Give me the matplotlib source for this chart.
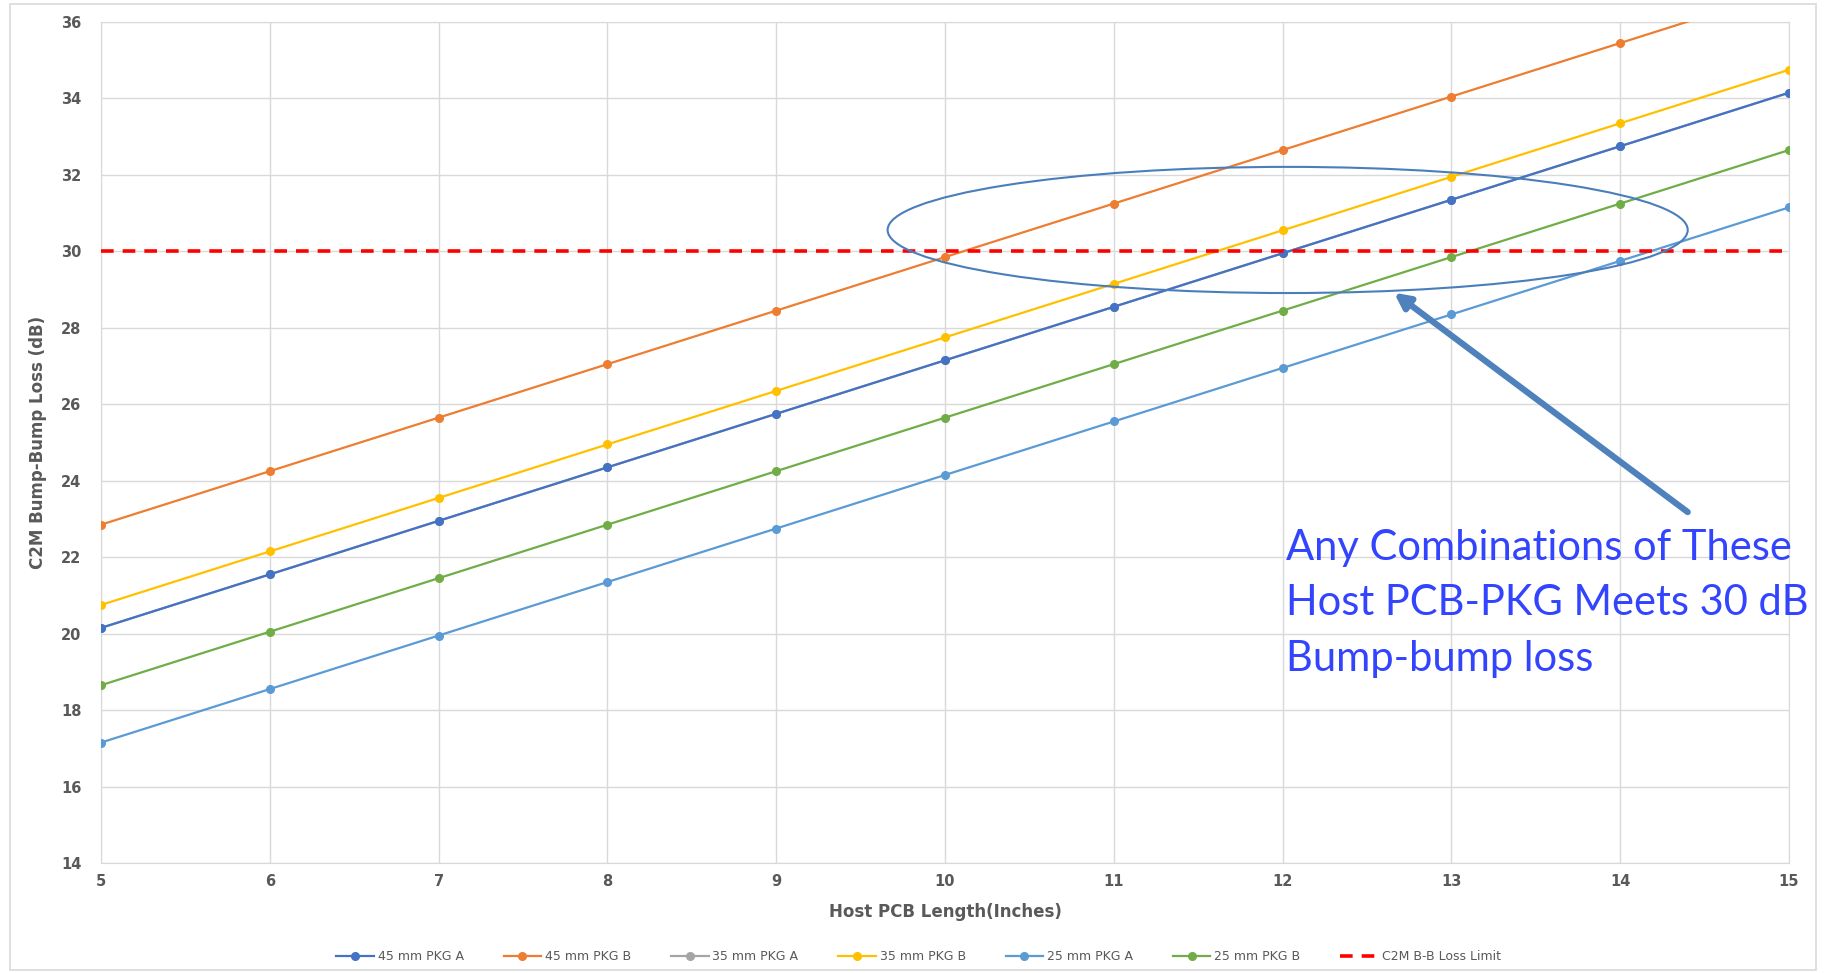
import matplotlib
matplotlib.use('Agg')
import matplotlib.pyplot as plt
from matplotlib.patches import Ellipse, Rectangle

# host PCB length (inches)
pcb_len = [5, 6, 7, 8, 9, 10, 11, 12, 13, 14, 15]

# C2M bump-bump loss (dB) per package
pkg45_a = [20.15, 21.55, 22.95, 24.35, 25.75, 27.15, 28.55, 29.95, 31.35, 32.75, 34.15]
pkg45_b = [22.85, 24.25, 25.65, 27.05, 28.45, 29.85, 31.25, 32.65, 34.05, 35.45, 36.85]
pkg35_a = [20.15, 21.55, 22.95, 24.35, 25.75, 27.15, 28.55, 29.95, 31.35, 32.75, 34.15]
pkg35_b = [20.75, 22.15, 23.55, 24.95, 26.35, 27.75, 29.15, 30.55, 31.95, 33.35, 34.75]
pkg25_a = [17.15, 18.55, 19.95, 21.35, 22.75, 24.15, 25.55, 26.95, 28.35, 29.75, 31.15]
pkg25_b = [18.65, 20.05, 21.45, 22.85, 24.25, 25.65, 27.05, 28.45, 29.85, 31.25, 32.65]
loss_limit = 30

series = [
    ('45 mm PKG A', pkg45_a, '#4472C4'),
    ('45 mm PKG B', pkg45_b, '#ED7D31'),
    ('35 mm PKG A', pkg35_a, '#A5A5A5'),
    ('35 mm PKG B', pkg35_b, '#FFC000'),
    ('25 mm PKG A', pkg25_a, '#5B9BD5'),
    ('25 mm PKG B', pkg25_b, '#70AD47'),
]
z_order = {'35 mm PKG A': 2}

txt = '#595959'
grid_c = '#D9D9D9'

fig = plt.figure(figsize=(18.37, 9.73), dpi=100)
ax = fig.add_axes([101 / 1837, 1 - 863 / 973, (1789 - 101) / 1837, (863 - 22) / 973])

# outer chart frame
fig.patches.append(Rectangle((10 / 1837, 3 / 973), (1816 - 10) / 1837, (969 - 3) / 973,
                             transform=fig.transFigure, fill=False, edgecolor='#D9D9D9', lw=1.2))

for name, vals, col in series:
    ax.plot(pcb_len, vals, color=col, lw=1.6, marker='o', ms=5.5, label=name,
            zorder=z_order.get(name, 3))

ax.plot([pcb_len[0], pcb_len[-1]], [loss_limit, loss_limit], color='#FF0000', lw=2.6,
        ls=(0, (3.5, 2.5)), label='C2M B-B Loss Limit', zorder=4)

ax.set_xlim(5, 15)
ax.set_ylim(14, 36)
ax.set_xticks(range(5, 16))
ax.set_yticks(range(14, 37, 2))
ax.grid(True, color=grid_c, lw=1)
ax.set_axisbelow(True)
for s in ax.spines.values():
    s.set_color(grid_c)
ax.tick_params(length=0, labelsize=10.5, labelcolor=txt, pad=14)
for lbl in ax.get_xticklabels() + ax.get_yticklabels():
    lbl.set_fontweight('bold')
ax.tick_params(axis='x', pad=8)

ax.set_xlabel('Host PCB Length(Inches)', fontsize=12, fontweight='bold', color=txt, labelpad=10)
ax.set_ylabel('C2M Bump-Bump Loss (dB)', fontsize=12, fontweight='bold', color=txt, labelpad=10)

# highlight ellipse + arrow + note
ax.add_patch(Ellipse((12.03, 30.56), 4.74, 3.3, fill=False, edgecolor='#4A7EBB', lw=1.5,
                     zorder=6, clip_on=False))
ax.annotate('', xy=(12.66, 28.92), xytext=(14.4, 23.18),
            arrowprops=dict(arrowstyle='-|>,head_length=0.9,head_width=0.45',
                            color='#4F81BD', lw=4.5, shrinkA=0, shrinkB=0), zorder=6)
ax.text(12.02, 22.75, 'Any Combinations of These\nHost PCB-PKG Meets 30 dB\nBump-bump loss',
        fontsize=30, color='#3344FF', family='Lato', va='top', ha='left',
        linespacing=1.58, zorder=7)

fig.legend(loc='center', bbox_to_anchor=(0.5, 1 - 957 / 973), ncol=7, frameon=False,
           fontsize=9, labelcolor=txt, handlelength=3, columnspacing=3.2, handletextpad=0.3)

fig.savefig('out.png', dpi=100)
